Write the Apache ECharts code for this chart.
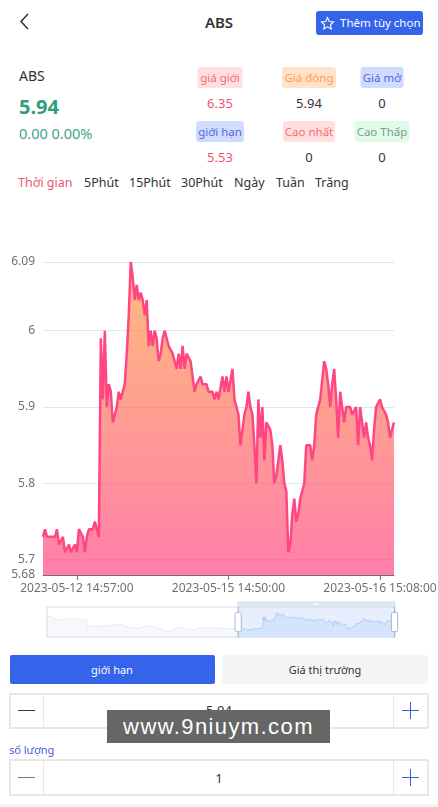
<!DOCTYPE html>
<html lang="vi">
<head>
    <meta charset="UTF-8" />
    <title>ABS</title>
    <script src="https://cdn.jsdelivr.net/npm/echarts@6/dist/echarts.min.js"></script>
    <style>
        html, body { margin: 0; padding: 0; background: #fff; }
        body { width: 438px; height: 807px; position: relative; overflow: hidden; font-family: "Noto Sans", sans-serif; color: #333; }
        .t { position: absolute; white-space: nowrap; line-height: 20px; }
        .c { transform: translateX(-50%); text-align: center; }
        .tag { position: absolute; transform: translateX(-50%); height: 21px; line-height: 21px; border-radius: 3px; font-size: 11.5px; text-align: center; white-space: nowrap; }
        .box { position: absolute; left: 9px; width: 416px; border: 2px solid #e8e8e8; }
        .box i { position: absolute; top: 0; bottom: 0; width: 1px; background: #e8e8e8; }
        .bar { position: absolute; height: 1px; background: #333; }
        #chart { position: absolute; left: 0; top: 200px; width: 438px; height: 450px; }
    </style>
</head>
<body>
    <svg style="position:absolute;left:18px;top:12px" width="14" height="20"><path d="M10 2 L3 9.5 L10 17" fill="none" stroke="#333" stroke-width="1.5"/></svg>
    <div class="t c" style="left:219px;top:12px;font-size:15px;font-weight:600">ABS</div>
    <div style="position:absolute;left:316px;top:11px;width:107px;height:24px;background:#3563e9;border-radius:3px"></div>
    <svg style="position:absolute;left:320px;top:16px" width="15" height="15" viewBox="0 0 24 24"><path d="M12 2.5l2.9 6.2 6.8.8-5 4.6 1.3 6.7-6-3.4-6 3.4 1.3-6.7-5-4.6 6.8-.8z" fill="none" stroke="#fff" stroke-width="1.8"/></svg>
    <div class="t" style="left:340px;top:13px;font-size:11.5px;color:#fff">Thêm tùy chọn</div>

    <div class="t" style="left:19px;top:66px;font-size:14px">ABS</div>
    <div class="t" style="left:19px;top:97px;font-size:20px;font-weight:700;color:#2f9e7c">5.94</div>
    <div class="t" style="left:19px;top:123px;font-size:14.5px;color:#3ba58b">0.00 0.00%</div>

    <div class="tag" style="left:220px;top:67px;width:45px;background:#ffdfdf;color:#f76d6d">giá giới</div>
    <div class="t c" style="left:220px;top:93px;font-size:13px;color:#f0556e">6.35</div>
    <div class="tag" style="left:220px;top:121px;width:48px;background:#cfdbff;color:#5566dd">giới hạn</div>
    <div class="t c" style="left:220px;top:147px;font-size:13px;color:#f0556e">5.53</div>

    <div class="tag" style="left:309px;top:67px;width:54px;background:#ffe2c8;color:#ff9a5a">Giá đóng</div>
    <div class="t c" style="left:309px;top:93px;font-size:13px">5.94</div>
    <div class="tag" style="left:309px;top:121px;width:52px;background:#ffdfdf;color:#f76d6d">Cao nhất</div>
    <div class="t c" style="left:309px;top:147px;font-size:13px">0</div>

    <div class="tag" style="left:382px;top:67px;width:43px;background:#cfdbff;color:#5566dd">Giá mở</div>
    <div class="t c" style="left:382px;top:93px;font-size:13px">0</div>
    <div class="tag" style="left:382px;top:121px;width:55px;background:#e0fbe8;color:#7c9c8c">Cao Thấp</div>
    <div class="t c" style="left:382px;top:147px;font-size:13px">0</div>

    <div class="t" style="left:18px;top:173px;font-size:12.5px;color:#f0556e">Thời gian</div>
    <div class="t" style="left:84px;top:173px;font-size:12.5px">5Phút</div>
    <div class="t" style="left:129px;top:173px;font-size:12.5px">15Phút</div>
    <div class="t" style="left:181px;top:173px;font-size:12.5px">30Phút</div>
    <div class="t" style="left:234px;top:173px;font-size:12.5px">Ngày</div>
    <div class="t" style="left:276px;top:173px;font-size:12.5px">Tuần</div>
    <div class="t" style="left:315px;top:173px;font-size:12.5px">Trăng</div>

    <div id="chart"></div>

    <div style="position:absolute;left:10px;top:655px;width:205px;height:29px;background:#3563e9;border-radius:2px"></div>
    <div class="t c" style="left:112px;top:660px;font-size:11px;color:#fff">giới hạn</div>
    <div style="position:absolute;left:222px;top:655px;width:206px;height:29px;background:#f5f5f7;border-radius:2px"></div>
    <div class="t c" style="left:325px;top:660px;font-size:11px">Giá thị trường</div>

    <div class="box" style="top:693px;height:32px"><i style="left:32px"></i><i style="left:382px"></i></div>
    <div class="bar" style="left:18px;top:710px;width:17px"></div>
    <div class="bar" style="left:402px;top:710px;width:17px;background:#3563e9"></div>
    <div class="bar" style="left:410px;top:702px;width:1px;height:17px;background:#3563e9"></div>
    <div class="t c" style="left:219px;top:700px;font-size:13px">5.94</div>

    <div class="t" style="left:9px;top:740px;font-size:11px;color:#4a5de0">số lượng</div>

    <div class="box" style="top:759px;height:33px"><i style="left:32px"></i><i style="left:382px"></i></div>
    <div class="bar" style="left:18px;top:777px;width:17px;background:#777"></div>
    <div class="bar" style="left:402px;top:777px;width:17px;background:#3563e9"></div>
    <div class="bar" style="left:410px;top:769px;width:1px;height:17px;background:#3563e9"></div>
    <div class="t c" style="left:219px;top:768px;font-size:13px">1</div>

    <div style="position:absolute;left:0;top:804px;width:438px;height:3px;background:#f3f4f6"></div>

    <div class="t" style="left:107px;top:710px;width:223px;height:33px;line-height:33px;background:#666;color:#fff;text-align:center;font-family:'Liberation Sans',sans-serif;font-size:22px;letter-spacing:1.4px">www.9niuym.com</div>

    <script>
        // earlier part, only seen in the slider thumbnail
        var priorValues = [
            6.05, 6.03, 6.0, 5.98, 5.99, 6.0, 5.99, 5.98, 5.97, 5.96, 5.95, 5.94,
            5.94, 5.93, 5.94, 5.93, 5.93, 5.92, 5.93, 5.93, 5.93, 5.94, 5.94, 5.95,
            5.95, 5.96, 5.96, 5.96, 5.95, 5.95, 5.96, 5.95, 5.95, 5.95, 5.94, 5.95,
            5.95, 5.94, 5.94, 5.95, 5.94, 5.94, 5.94, 5.94, 5.93, 5.85, 5.76, 5.78,
            5.8, 5.8, 5.79, 5.8, 5.79, 5.79, 5.8, 5.79, 5.79, 5.78, 5.79, 5.79,
            5.8, 5.79, 5.8, 5.79, 5.8, 5.8, 5.79, 5.8, 5.8, 5.81, 5.8, 5.81,
            5.81, 5.82, 5.81, 5.82, 5.82, 5.83, 5.82, 5.83, 5.83, 5.83, 5.82, 5.83,
            5.82, 5.81, 5.8, 5.8, 5.79, 5.78, 5.78, 5.77, 5.77, 5.76, 5.76, 5.75,
            5.75, 5.74, 5.75, 5.74, 5.74, 5.75, 5.75, 5.76, 5.75, 5.76, 5.77, 5.76,
            5.77, 5.77, 5.78, 5.79, 5.78, 5.79, 5.8, 5.8, 5.8, 5.79, 5.78, 5.77,
            5.77, 5.76, 5.76, 5.76, 5.75, 5.76, 5.75, 5.75, 5.73, 5.71, 5.69, 5.68,
            5.68, 5.67, 5.68, 5.68, 5.67, 5.68, 5.68, 5.69, 5.68, 5.7, 5.72, 5.74,
            5.75, 5.76, 5.77, 5.76, 5.76, 5.75, 5.76, 5.75, 5.74, 5.75, 5.74, 5.74,
            5.73, 5.73, 5.72, 5.73, 5.72, 5.71, 5.71, 5.7, 5.71, 5.7, 5.72, 5.73,
            5.74, 5.74, 5.75, 5.76, 5.75, 5.76, 5.76, 5.75, 5.75, 5.74, 5.75, 5.74,
            5.74, 5.75, 5.74, 5.75, 5.75, 5.75, 5.76, 5.75, 5.75, 5.74, 5.75, 5.74,
            5.74, 5.75, 5.74, 5.74, 5.75, 5.74, 5.74, 5.73, 5.74, 5.74, 5.73, 5.73,
            5.74, 5.73, 5.73, 5.74, 5.73, 5.73, 5.72, 5.73
        ];
        // visible window of the main chart
        var windowValues = [
            5.73, 5.74, 5.73, 5.73, 5.73, 5.73, 5.73, 5.74, 5.72, 5.72,
            5.73, 5.71, 5.71, 5.72, 5.71, 5.71, 5.72, 5.71, 5.74, 5.74,
            5.73, 5.71, 5.73, 5.74, 5.74, 5.74, 5.75, 5.75, 5.73, 5.99,
            5.91, 6.0, 5.9, 5.93, 5.92, 5.88, 5.88, 5.9, 5.92, 5.91,
            5.92, 5.93, 5.97, 6.02, 6.09, 6.07, 6.04, 6.06, 6.04, 6.05,
            6.04, 6.02, 6.04, 5.98, 6.0, 5.98, 6.0, 5.99, 5.96, 5.97,
            5.99, 6.0, 5.99, 5.98, 5.98, 5.97, 5.96, 5.95, 5.97, 5.95,
            5.98, 5.95, 5.97, 5.97, 5.96, 5.96, 5.92, 5.93, 5.93, 5.94,
            5.93, 5.93, 5.93, 5.92, 5.92, 5.92, 5.91, 5.92, 5.91, 5.91,
            5.94, 5.92, 5.94, 5.92, 5.92, 5.95, 5.91, 5.91, 5.89, 5.85,
            5.87, 5.89, 5.9, 5.92, 5.9, 5.89, 5.85, 5.8, 5.91, 5.86,
            5.9, 5.83, 5.88, 5.88, 5.87, 5.85, 5.8, 5.81, 5.83, 5.85,
            5.83, 5.8, 5.79, 5.71, 5.72, 5.76, 5.78, 5.75, 5.76, 5.78,
            5.79, 5.8, 5.85, 5.85, 5.85, 5.83, 5.85, 5.89, 5.89, 5.91,
            5.91, 5.96, 5.95, 5.93, 5.9, 5.93, 5.95, 5.91, 5.86, 5.92,
            5.9, 5.88, 5.9, 5.9, 5.9, 5.89, 5.89, 5.9, 5.85, 5.9,
            5.88, 5.86, 5.88, 5.86, 5.85, 5.83, 5.87, 5.9, 5.9, 5.91,
            5.9, 5.9, 5.89, 5.88, 5.86, 5.86, 5.88
        ];
        var tickLabels = ["2023-05-12 14:57:00", "2023-05-15 14:50:00", "2023-05-16 15:08:00"];
        var tickOffsets = [17, 93, 169];

        var allValues = priorValues.concat(windowValues);
        var tickIndexes = tickOffsets.map(function (o) { return priorValues.length + o; });
        var categories = allValues.map(function (v, i) {
            var k = tickIndexes.indexOf(i);
            return k >= 0 ? tickLabels[k] : String(i);
        });
        var showTick = function (i) { return tickIndexes.indexOf(i) >= 0; };

        var mCharts = echarts.init(document.getElementById("chart"));
        var option = {
            animation: false,
            grid: { left: 43, top: 62, width: 351, height: 313, outerBoundsMode: "none" },
            textStyle: { fontFamily: "Noto Sans" },
            xAxis: {
                type: "category",
                boundaryGap: false,
                data: categories,
                axisLine: { lineStyle: { color: "#6E7079" } },
                axisTick: { alignWithLabel: true, interval: showTick, lineStyle: { color: "#6E7079" } },
                axisLabel: { interval: showTick, color: "#6E7079", fontSize: 12, hideOverlap: false },
                splitLine: { show: false },
            },
            yAxis: {
                type: "value",
                min: 5.68,
                max: 6.09,
                splitNumber: 4,
                axisLine: { show: false },
                axisTick: { show: false },
                axisLabel: { color: "#6E7079", fontSize: 12 },
                splitLine: { lineStyle: { color: "#E0E6F1" } },
            },
            dataZoom: [
                {
                    type: "slider",
                    xAxisIndex: 0,
                    startValue: priorValues.length,
                    endValue: allValues.length - 1,
                    left: 44,
                    width: 349,
                    top: 401,
                    height: 31,
                    showDetail: false,
                    borderColor: "#d2dbee",
                    fillerColor: "rgba(135,175,274,0.2)",
                    moveHandleSize: 6,
                    moveHandleStyle: { color: "#D2DBEE", opacity: 0.7 },
                    handleStyle: { color: "#fff", borderColor: "#ACB8D1" },
                    dataBackground: {
                        lineStyle: { color: "#d2dbee", width: 0.5 },
                        areaStyle: { color: "#d2dbee", opacity: 0.2 },
                    },
                    selectedDataBackground: {
                        lineStyle: { color: "#8fb0f7", width: 0.5 },
                        areaStyle: { color: "#8fb0f7", opacity: 0.2 },
                    },
                },
            ],
            series: [
                {
                    type: "line",
                    data: allValues,
                    symbol: "none",
                    showSymbol: false,
                    lineStyle: { width: 2.5, color: "rgb(255, 70, 131)" },
                    itemStyle: { color: "rgb(255, 70, 131)" },
                    areaStyle: {
                        color: new echarts.graphic.LinearGradient(0, 0, 0, 1, [
                            { offset: 0, color: "rgb(255, 158, 68)" },
                            { offset: 1, color: "rgb(255, 70, 131)" },
                        ]),
                    },
                },
            ],
        };
        mCharts.setOption(option);
    </script>
</body>
</html>
